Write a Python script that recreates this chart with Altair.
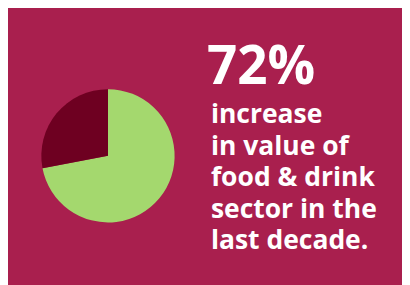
import altair as alt
import pandas as pd

categories = ["Increase", "Rest"]
values = [72, 28]
colors = ["#A4D86E", "#6E0021"]
headline = ["72%"]
body_lines = ["increase", "in value of", "food & drink", "sector in the", "last decade."]

BG = "#A91F4E"

pie_df = pd.DataFrame({"category": categories, "value": values, "order": [0, 1]})

pie = alt.Chart(pie_df).mark_arc(radius=68, stroke=None).encode(
    theta=alt.Theta("value:Q", stack=True),
    order=alt.Order("order:Q"),
    color=alt.Color("category:N", scale=alt.Scale(domain=categories, range=colors), legend=None),
    x=alt.value(102),
    y=alt.value(148),
)

head = alt.Chart(pd.DataFrame({"t": headline})).mark_text(
    font="Open Sans", fontWeight="bold", fontSize=54, color="white",
    align="left", baseline="alphabetic"
).encode(text="t:N", x=alt.value(203), y=alt.value(75))

body_df = pd.DataFrame({"t": body_lines, "i": list(range(len(body_lines)))})
body = alt.Chart(body_df).mark_text(
    font="Open Sans", fontWeight="bold", fontSize=27, color="white",
    align="left", baseline="alphabetic"
).encode(
    text="t:N",
    x=alt.value(207),
    y=alt.Y("i:Q", scale=alt.Scale(domain=[0, 4], range=[115, 243]), axis=None),
)

chart = alt.layer(pie, head, body).properties(
    width=402, height=277,
    autosize=alt.AutoSizeParams(type="fit", contains="padding"),
    padding=0,
    background=BG,
).configure_view(stroke=None)

chart.save("out.html", embed_options={"renderer": "svg", "actions": False})
